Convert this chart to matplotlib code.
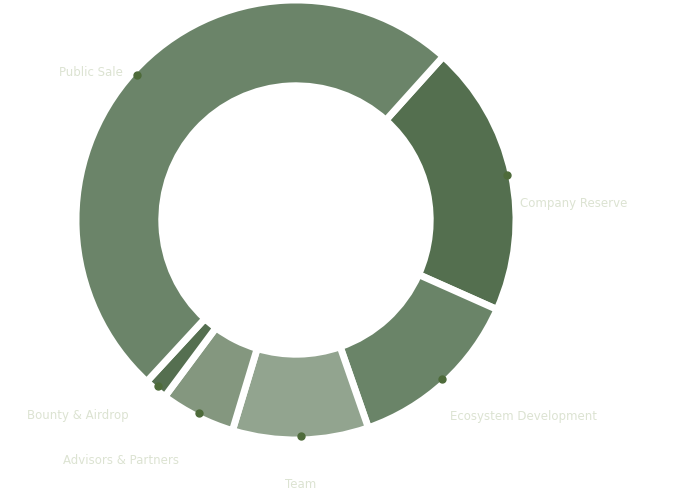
import numpy as np
import matplotlib.pyplot as plt

labels = ["Company Reserve", "Ecosystem Development", "Team", "Advisors & Partners", "Bounty & Airdrop", "Public Sale"]
values = [20, 13, 10, 5.5, 1.7, 49.8]
colors = ["#546f4f", "#6a8468", "#92a48f", "#84977f", "#556f50", "#6b8469"]
# label offsets from the dot, in pixels
offsets = [(13, -28), (8, -38), (0, -49), (-78, -48), (-81, -30), (-14, 2)]
aligns = ["left", "left", "center", "center", "center", "right"]

fig = plt.figure(figsize=(6.8, 5.01), dpi=100)
ax = fig.add_axes([76 / 680, 61 / 501, 440 / 680, 440 / 501])

wedges, _ = ax.pie(values, colors=colors, startangle=48, counterclock=False,
                   radius=1.0, wedgeprops=dict(width=0.39, edgecolor="white", linewidth=5, joinstyle="round"))
ax.set_xlim(-1, 1)
ax.set_ylim(-1, 1)
ax.set_aspect("equal")
ax.axis("off")

for w, lab, off, ha in zip(wedges, labels, offsets, aligns):
    mid = np.deg2rad((w.theta1 + w.theta2) / 2)
    x, y = 0.98 * np.cos(mid), 0.98 * np.sin(mid)
    ax.plot(x, y, "o", color="#4e6b3a", markersize=5, zorder=5)
    ax.annotate(lab, (x, y), xytext=off, textcoords="offset pixels", ha=ha, va="center",
                fontsize=8.5, color="#dce3d2", annotation_clip=False)

fig.savefig("out.png", dpi=100, facecolor="white")
